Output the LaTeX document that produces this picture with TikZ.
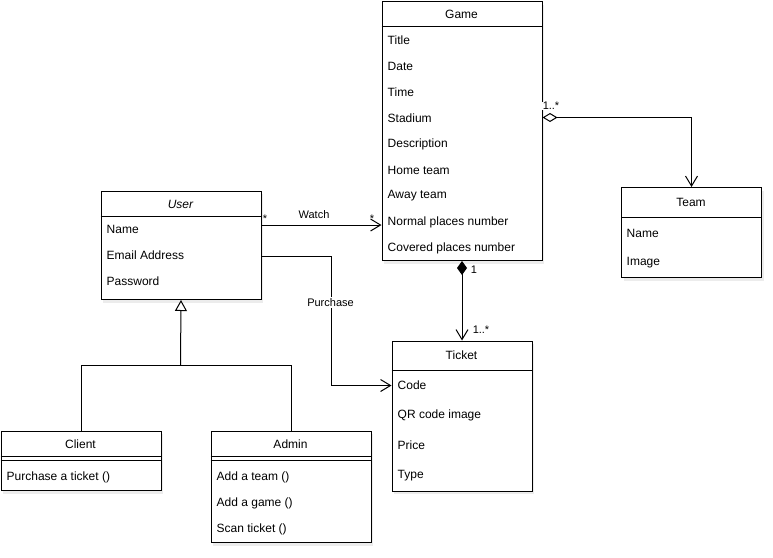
\documentclass[tikz,border=0pt]{standalone}
\usepackage{fontspec}
\setmainfont{Liberation Sans}
\usetikzlibrary{arrows.meta,shadows,calc}
\begin{document}
\begin{tikzpicture}[x=1pt,y=-1pt,
  box/.style={draw,line width=1pt,fill=white,rectangle,inner sep=0pt,anchor=north west,
    drop shadow={shadow xshift=2pt,shadow yshift=-3pt,opacity=0.15}},
  ttl/.style={inner sep=0pt,font=\fontsize{12}{14}\selectfont},
  attr/.style={inner sep=0pt,anchor=west,font=\fontsize{12}{14}\selectfont},
  lbl/.style={inner sep=1pt,font=\fontsize{11}{13}\selectfont},
  conn/.style={line width=1pt},
  openarrow/.style={-{Straight Barb[length=10pt,width=12pt]}},
]
\useasboundingbox (0,0) rectangle (773,557);

% ---------- Game ----------
\node[box,minimum width=160pt,minimum height=259pt] (game) at (381.5,1) {};
\draw[conn] ([yshift=-25pt]game.north west) -- ([yshift=-25pt]game.north east);
\node[ttl] (gameT) at (461.5,14) {Game};
\node[attr] (g1) at (387.5,40) {Title};
\node[attr] (g2) at (387.5,66) {Date};
\node[attr] (g3) at (387.5,92) {Time};
\node[attr] (g4) at (387.5,118) {Stadium};
\node[attr] (g5) at (387.5,144) {Description};
\node[attr] (g6) at (387.5,170) {Home team};
\node[attr] (g7) at (387.5,196) {Away team};
\node[attr] (g8) at (387.5,222) {Normal places number};
\node[attr] (g9) at (387.5,248) {Covered places number};

% ---------- Team ----------
\node[box,minimum width=140pt,minimum height=90pt] (team) at (621,187) {};
\draw[conn] ([yshift=-30pt]team.north west) -- ([yshift=-30pt]team.north east);
\node[ttl] (teamT) at (691,202) {Team};
\node[attr] (t1) at (626.5,233) {Name};
\node[attr] (t2) at (626.5,263) {Image};

% ---------- User ----------
\node[box,minimum width=160pt,minimum height=108.5pt] (user) at (100.5,190.5) {};
\draw[conn] ([yshift=-25.5pt]user.north west) -- ([yshift=-25.5pt]user.north east);
\node[ttl,font=\fontsize{12}{14}\selectfont\itshape] (userT) at (180.5,204) {User};
\node[attr] (u1) at (106.5,229.5) {Name};
\node[attr] (u2) at (106.5,255.5) {Email Address};
\node[attr] (u3) at (106.5,281.5) {Password};

% ---------- Ticket ----------
\node[box,minimum width=140pt,minimum height=150pt] (ticket) at (391.5,340.5) {};
\draw[conn] ([yshift=-30pt]ticket.north west) -- ([yshift=-30pt]ticket.north east);
\node[ttl] (ticketT) at (461.5,355.5) {Ticket};
\node[attr] (k1) at (397.5,385.5) {Code};
\node[attr] (k2) at (397.5,415.5) {QR code image};
\node[attr] (k3) at (397.5,445.5) {Price};
\node[attr] (k4) at (397.5,475.5) {Type};

% ---------- Client ----------
\node[box,minimum width=160pt,minimum height=59.5pt] (client) at (0.5,430.5) {};
\draw[conn] ([yshift=-26pt]client.north west) -- ([yshift=-26pt]client.north east);
\draw[conn] ([yshift=-30pt]client.north west) -- ([yshift=-30pt]client.north east);
\node[ttl] (clientT) at (80.5,444) {Client};
\node[attr] (c1) at (6.5,477.5) {Purchase a ticket ()};

% ---------- Admin ----------
\node[box,minimum width=160pt,minimum height=111.5pt] (admin) at (210.5,430.5) {};
\draw[conn] ([yshift=-26pt]admin.north west) -- ([yshift=-26pt]admin.north east);
\draw[conn] ([yshift=-30pt]admin.north west) -- ([yshift=-30pt]admin.north east);
\node[ttl] (adminT) at (290.5,444) {Admin};
\node[attr] (a1) at (216.5,477.5) {Add a team ()};
\node[attr] (a2) at (216.5,503.5) {Add a game ()};
\node[attr] (a3) at (216.5,529.5) {Scan ticket ()};

% ---------- Connectors ----------
% Watch
\draw[conn,openarrow] ([yshift=-34.5pt]user.north east) -- ([yshift=-224pt]game.north west);
\node[lbl] (watchL) at (314,215) {Watch};
\node[lbl] (watchS1) at (265,219) {*};
\node[lbl] (watchS2) at (372,219) {*};

% Purchase
\draw[conn,openarrow] ([yshift=-65.5pt]user.north east) -- ++(70,0) |- ([yshift=-45pt]ticket.north west);
\node[lbl,fill=white] (purchL) at (330.5,302.5) {Purchase};

% Game - Ticket (composition)
\draw[conn,{Diamond[length=14pt,width=10pt]}-{Straight Barb[length=10pt,width=12pt]}] (game.south) -- (ticket.north);
\node[lbl] (gt1) at (474,270) {1};
\node[lbl] (gt2) at (481,330) {1..*};

% Game - Team (aggregation)
\draw[conn,{Diamond[open,length=15pt,width=9pt]}-{Straight Barb[length=10pt,width=12pt]}] ([yshift=-116.5pt]game.north east) -| (team.north);
\node[lbl,fill=white,inner sep=0.5pt] (gtm) at (551,106) {1..*};

% Inheritance
\coordinate (j) at (180.5,365);
\draw[conn] (client.north) |- (j);
\draw[conn] (admin.north) |- (j);
\draw[conn,-{Triangle[open,length=11pt,width=12pt]}] (j) -- (user.south);
\end{tikzpicture}
\end{document}
